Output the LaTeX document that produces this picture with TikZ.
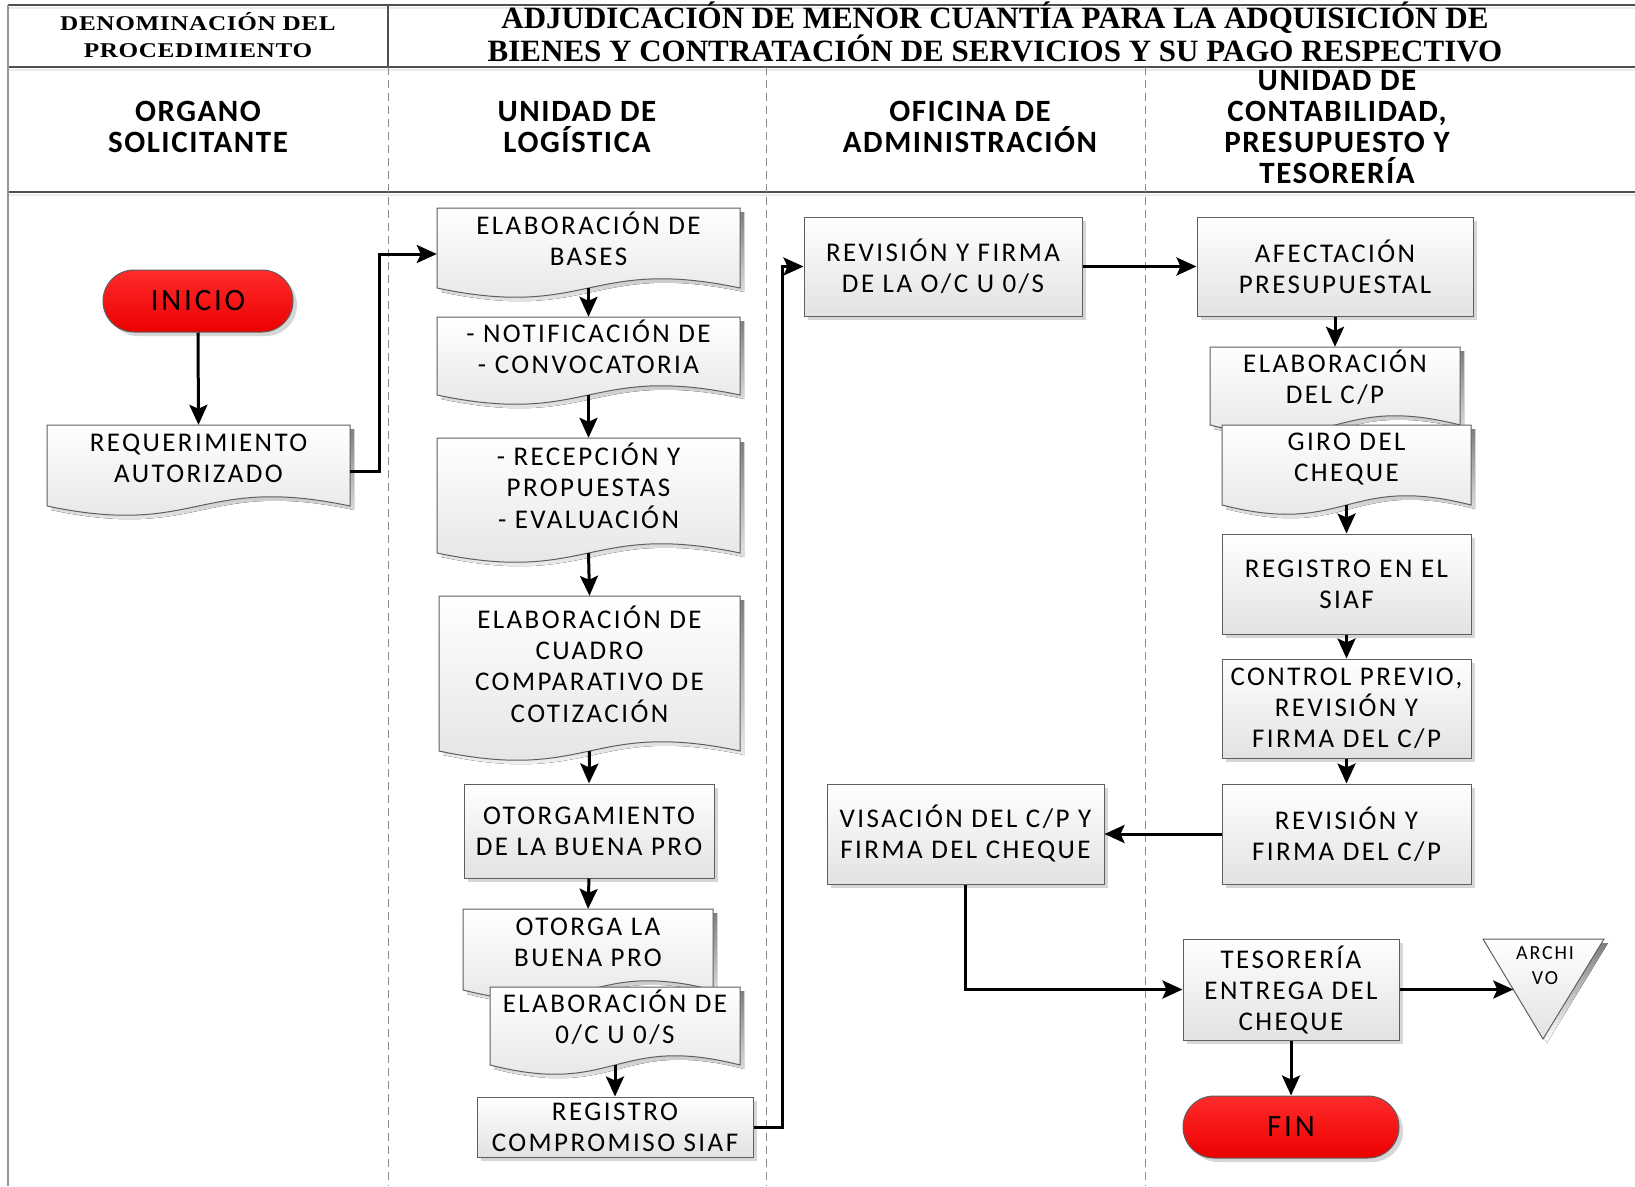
\documentclass[tikz,border=0pt]{standalone}
\usepackage{fontspec}
\usetikzlibrary{arrows.meta,calc,shadows}

\newfontfamily\boxfont{Carlito}[LetterSpace=9]
\newfontfamily\lanefont{Carlito}[LetterSpace=5]
\newfontfamily\headfont{Liberation Serif}
\newfontfamily\labelfont{Liberation Serif}[FakeStretch=1.2,LetterSpace=3]

\definecolor{edge}{HTML}{5F5F5F}
\definecolor{boxbot}{HTML}{E2E2E2}
\definecolor{redtop}{HTML}{FF2B2B}
\definecolor{redbot}{HTML}{EC0000}
\definecolor{laneline}{HTML}{8A8A8A}
\definecolor{rule}{HTML}{505050}
\definecolor{shade}{HTML}{D6D6D6}

\tikzset{
  boxtext/.style={font=\boxfont\fontsize{27}{31}\selectfont, text=black},
  procbox/.style={boxtext, align=center, rectangle, draw=edge, line width=1pt,
    top color=white, bottom color=boxbot, inner sep=0pt,
    drop shadow={shadow xshift=4pt, shadow yshift=-4pt, fill=shade, opacity=1}},
  docnode/.style={boxtext, rectangle, inner sep=0pt},
  docshape/.style={draw=edge, line width=1pt, top color=white, bottom color=boxbot},
  terminal/.style={rectangle, rounded corners=31pt, draw=edge, line width=1pt,
    top color=redtop, bottom color=redbot, inner sep=0pt,
    font=\boxfont\fontsize{31}{32}\selectfont,
    drop shadow={shadow xshift=4pt, shadow yshift=-4pt, fill=shade, opacity=1}},
  flow/.style={line width=3pt, -{Stealth[length=20pt,width=18pt,inset=4pt]}},
  lanetitle/.style={font=\lanefont\bfseries\fontsize{31}{31}\selectfont, align=center},
  headtitle/.style={font=\headfont\bfseries\fontsize{31}{29}\selectfont, align=center},
  headlabel/.style={font=\labelfont\bfseries\fontsize{21}{27}\selectfont, align=center},
  frameline/.style={draw=rule, line width=1.5pt},
  frameshade/.style={draw=black!8, line width=2pt},
  laneline/.style={draw=laneline, line width=1pt, dash pattern=on 8pt off 5pt},
}

% depth of the wave on the bottom of a document shape
\def\wv{32}

% \docbox{name}{left}{top}{right}{wave line}{lines of text}
% the text sits a little above the middle, clear of the wave
\newcommand\docbox[6]{%
  \pgfmathsetmacro\dcx{(#2+#4)/2}%
  \begin{scope}[transform canvas={xshift=4pt,yshift=-4pt}]
    \fill[shade] (#2,#3) -- (#4,#3) -- (#4,#5)
      .. controls ({\dcx},{#5-\wv}) and ({\dcx},{#5+\wv}) .. (#2,#5) -- cycle;
  \end{scope}
  \draw[docshape] (#2,#3) -- (#4,#3) -- (#4,#5)
      .. controls ({\dcx},{#5-\wv}) and ({\dcx},{#5+\wv}) .. (#2,#5) -- cycle;
  \node[docnode, minimum width={#4-#2}, minimum height={#5-#3}] (#1)
    at ({\dcx},{(#3+#5)/2})
    {\raisebox{5pt}[\height][\depth]{\begin{tabular}{@{}c@{}}#6\end{tabular}}};
}

\begin{document}
\begin{tikzpicture}[x=1pt, y=-1pt]
\useasboundingbox[fill=white] (0,0) rectangle (1635,1186);

% ---- header grid ----
\foreach \yy in {5,67,192} {
  \draw[frameshade] (8,\yy+3) -- (1635,\yy+3);
  \draw[frameline] (8,\yy) -- (1635,\yy);
}
\draw[draw=laneline!90, line width=2pt] (8,5) -- (8,1186);
\draw[frameline] (388,5) -- (388,67);
\draw[laneline] (388,67) -- (388,1186);
\draw[laneline] (766,67) -- (766,1186);
\draw[laneline] (1145,67) -- (1145,1186);

\node[headlabel] (denom) at (198,35) {DENOMINACIÓN DEL\\PROCEDIMIENTO};
\node[headtitle] (title) at (995,32)
  {ADJUDICACIÓN DE MENOR CUANTÍA PARA LA ADQUISICIÓN DE\\BIENES Y CONTRATACIÓN DE SERVICIOS Y SU PAGO RESPECTIVO};

\node[lanetitle] (lane1) at (198,127) {ORGANO\\SOLICITANTE};
\node[lanetitle] (lane2) at (577,127) {UNIDAD DE\\LOGÍSTICA};
\node[lanetitle] (lane3) at (970,127) {OFICINA DE\\ADMINISTRACIÓN};
\node[lanetitle] (lane4) at (1337,127) {UNIDAD DE\\CONTABILIDAD,\\PRESUPUESTO Y\\TESORERÍA};

% ---- organo solicitante ----
\node[terminal, minimum width=190pt, minimum height=62pt] (inicio) at (198,301) {INICIO};
\docbox{req}{47}{425}{350}{506}{REQUERIMIENTO\\AUTORIZADO}

% ---- unidad de logistica ----
\docbox{bases}{437}{208}{740}{288}{ELABORACIÓN DE\\BASES}
\docbox{notif}{437}{317}{740}{395}{- NOTIFICACIÓN DE\\- CONVOCATORIA}
\docbox{recep}{437}{438}{740}{553}{- RECEPCIÓN Y\\PROPUESTAS\\- EVALUACIÓN}
\docbox{cuadro}{439}{596}{740}{751}{ELABORACIÓN DE\\CUADRO\\COMPARATIVO DE\\COTIZACIÓN}
\node[procbox, minimum width=250pt, minimum height=94pt] (otorgam) at (589,831)
  {OTORGAMIENTO\\DE LA BUENA PRO};
\docbox{otorga}{463}{909}{713}{990}{OTORGA LA\\BUENA PRO}
\docbox{elaboc}{490}{987}{740}{1065}{ELABORACIÓN DE\\0/C U 0/S}
\node[procbox, minimum width=276pt, minimum height=60pt] (regcomp) at (615,1127)
  {REGISTRO\\COMPROMISO SIAF};

% ---- oficina de administracion ----
\node[procbox, minimum width=278pt, minimum height=99pt] (revoc) at (943,266.5)
  {REVISIÓN Y FIRMA\\DE LA O/C U 0/S};
\node[procbox, minimum width=277pt, minimum height=100pt] (visa) at (965.5,834)
  {VISACIÓN DEL C/P Y\\FIRMA DEL CHEQUE};

% ---- contabilidad, presupuesto y tesoreria ----
\node[procbox, minimum width=276pt, minimum height=99pt] (afect) at (1335,266.5)
  {AFECTACIÓN\\PRESUPUESTAL};
\docbox{elabcp}{1210}{347}{1460}{425}{ELABORACIÓN\\DEL C/P}
\docbox{giro}{1222}{425}{1471}{505}{GIRO DEL\\CHEQUE}
\node[procbox, minimum width=249pt, minimum height=100pt] (regsiaf) at (1346.5,584)
  {REGISTRO EN EL\\SIAF};
\node[procbox, minimum width=249pt, minimum height=99pt] (control) at (1346.5,708.5)
  {CONTROL PREVIO,\\REVISIÓN Y\\FIRMA DEL C/P};
\node[procbox, minimum width=249pt, minimum height=100pt] (revcp) at (1346.5,834)
  {REVISIÓN Y\\FIRMA DEL C/P};
\node[procbox, minimum width=216pt, minimum height=101pt] (tesor) at (1291,989.5)
  {TESORERÍA\\ENTREGA DEL\\CHEQUE};
\node[terminal, minimum width=216pt, minimum height=62pt] (fin) at (1291,1127) {FIN};

% archive (inverted triangle)
\begin{scope}[transform canvas={xshift=4pt,yshift=-4pt}]
  \fill[shade] (1483,939) -- (1604,939) -- (1543,1039) -- cycle;
\end{scope}
\draw[docshape] (1483,939) -- (1604,939) -- (1543,1039) -- cycle;
\node[font=\boxfont\fontsize{20}{25}\selectfont, align=center] (archivo) at (1545,966) {ARCHI\\VO};
\coordinate (archin) at (1513.3,989.5);

% ---- connectors ----
\draw[flow] (inicio.south) -- (req.north);
\draw[flow] ([yshift=-6pt]req.east) -- ++(29,0) |- ([yshift=-6pt]bases.west);
\draw[flow] (bases.south) -- (notif.north);
\draw[flow] (notif.south) -- (recep.north);
\draw[flow] (recep.south) -- (cuadro.north);
\draw[flow] (cuadro.south) -- (otorgam.north);
\draw[flow] (otorgam.south) -- (otorga.north);
\draw[flow] (elaboc.south) -- (regcomp.north);
\draw[flow] (regcomp.east) -- ++(29,0) |- (revoc.west);
\draw[flow] (revoc.east) -- (afect.west);
\draw[flow] (afect.south) -- (elabcp.north);
\draw[flow] (giro.south) -- (regsiaf.north);
\draw[flow] (regsiaf.south) -- (control.north);
\draw[flow] (control.south) -- (revcp.north);
\draw[flow] (revcp.west) -- (visa.east);
\draw[flow] (visa.south) |- (tesor.west);
\draw[flow] (tesor.east) -- (archin);
\draw[flow] (tesor.south) -- (fin.north);
\end{tikzpicture}
\end{document}
